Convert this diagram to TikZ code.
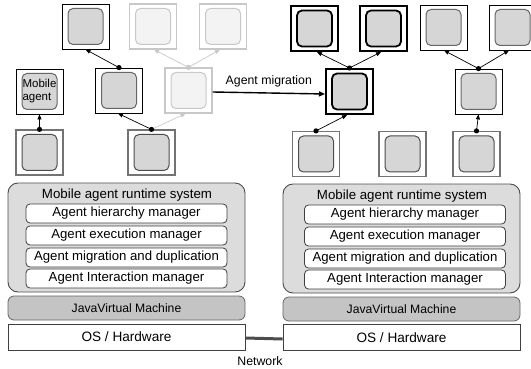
\documentclass[tikz,border=0pt]{standalone}
\usepackage{fontspec}
\setmainfont{Liberation Sans}
\usetikzlibrary{arrows.meta}
\definecolor{coregray}{HTML}{D6D6D6}
\definecolor{runtimegray}{HTML}{DCDCDC}
\definecolor{jvmgray}{HTML}{C4C4C4}
\definecolor{fadeline}{HTML}{C8C8C8}
\definecolor{fadefill}{HTML}{F3F3F3}
\tikzset{
  host/.style={draw=black, line width=0.8pt, fill=white, minimum width=47pt, minimum height=45pt, inner sep=0pt},
  core/.style={draw=black!60, line width=1pt, fill=coregray, rounded corners=5pt, minimum width=35pt, minimum height=36pt, inner sep=0pt},
  basehost/.style={host, draw=black!55, line width=1.2pt},
  basecore/.style={core, draw=black!70},
  boldhost/.style={host, line width=2pt},
  boldcore/.style={core, draw=black, line width=1.8pt},
  fadehost/.style={host, draw=fadeline, line width=1.2pt},
  fadecore/.style={core, draw=fadeline, fill=fadefill},
  link/.style={line width=0.7pt, -{Triangle[length=5pt,width=4pt]}},
  fadelink/.style={link, draw=fadeline},
  dot/.style={fill=black},
  layer/.style={draw=black!70, line width=0.9pt, rounded corners=10pt, fill=runtimegray, minimum width=237pt, minimum height=109pt, inner sep=0pt},
  module/.style={draw=black!75, line width=0.8pt, rounded corners=4pt, fill=white, minimum width=201pt, minimum height=19pt, inner sep=0pt, font=\fontsize{13.2}{15}\selectfont},
  jvm/.style={draw=black!60, line width=0.8pt, rounded corners=6pt, fill=jvmgray, minimum width=237pt, minimum height=24pt, inner sep=0pt, font=\fontsize{12.2}{14}\selectfont},
  os/.style={draw=black!75, line width=0.8pt, fill=white, minimum width=237pt, minimum height=26pt, inner sep=0pt, font=\fontsize{13.6}{15}\selectfont},
  label/.style={font=\fontsize{12.3}{14}\selectfont, inner sep=0pt},
}
% an agent place: outer frame plus rounded agent body
\newcommand\agentbox[4][]{%
  \node[#2host] (#3) at (#4) {};
  \node[#2core, align=left, font=\fontsize{11.5}{13}\selectfont] (#3c) at (#3) {#1};
}
\begin{document}
\begin{tikzpicture}[x=1pt, y=-1pt]
\useasboundingbox (0,0) rectangle (531,369);
\clip (0,0) rectangle (531,369);

% ---- left host: agent hierarchy ----
\agentbox{}{A}{85.5,26.5}
\agentbox{fade}{B}{153,26.5}
\agentbox{fade}{C}{223,26.5}
\agentbox[Mobile\\agent]{}{MA}{39.5,91.5}
\agentbox{}{D}{119,90.5}
\agentbox{fade}{E}{188.5,90.5}
\agentbox{base}{F}{39.5,152.5}
\agentbox{base}{G}{151.5,152.5}

\draw[fadelink] (G.north) -- ([xshift=-3pt]E.south);
\draw[fadelink] (E.north) -- ([xshift=1pt]B.south);
\draw[fadelink] (E.north) -- ([xshift=-3pt]C.south);
\fill[fadeline] (E.north) circle (2.6pt);
\draw[link] (G.north) -- ([xshift=-1pt]D.south);
\draw[link] (D.north) -- (A.south);
\draw[link] (F.north) -- (MA.south);
\fill[dot] (G.north) circle (2.6pt);
\fill[dot] (D.north) circle (2.6pt);
\fill[dot] (F.north) circle (2.6pt);

% ---- right host ----
\agentbox{bold}{H1}{314.5,28.5}
\agentbox{bold}{H2}{383.5,28.5}
\agentbox{}{H3}{443.5,27.5}
\agentbox{}{H4}{512.5,27.5}
\agentbox{bold}{M}{349.5,91.5}
\agentbox{}{N}{478.5,91.5}
\agentbox{base}{R1}{316,154}
\agentbox{base}{R2}{402.5,154}
\agentbox{base}{R3}{476.5,154}

\draw[link] (M.north) -- ([xshift=2.5pt]H1.south);
\draw[link] (M.north) -- ([xshift=-2.5pt]H2.south);
\draw[link] (R1.north) -- ([xshift=-2.5pt]M.south);
\draw[link] (N.north) -- ([xshift=0.5pt]H3.south);
\draw[link] (N.north) -- ([xshift=-3.5pt]H4.south);
\draw[link] (R3.north) -- (N.south);
\fill[dot] (M.north) circle (2.6pt);
\fill[dot] (R1.north) circle (2.6pt);
\fill[dot] (N.north) circle (2.6pt);
\fill[dot] (R3.north) circle (2.6pt);

% migration of the agent between hosts
\draw[line width=1.4pt, -{Triangle[length=6pt,width=5pt]}] ([yshift=-1.5pt]E.east) -- ([yshift=-2.5pt]M.west)
  node[label, midway, above=5pt] {Agent migration};

% ---- platform stacks ----
\node[layer] (rtL) at (126.5,237.5) {};
\node[label, font=\fontsize{13.3}{15}\selectfont] (rtLt) at (127,195) {Mobile agent runtime system};
\node[module] (hmL) at (126.5,213.5) {Agent hierarchy manager};
\node[module] (emL) at (126.5,235.5) {Agent execution manager};
\node[module] (mdL) at (126.5,257.5) {Agent migration and duplication};
\node[module] (imL) at (126.5,278.5) {Agent Interaction manager};
\node[jvm] (jvmL) at (126.5,308) {JavaVirtual Machine};
\node[os] (osL) at (126.5,337) {OS / Hardware};

\node[layer] (rtR) at (401.5,238.5) {};
\node[label, font=\fontsize{13.3}{15}\selectfont] (rtRt) at (402,196) {Mobile agent runtime system};
\node[module] (hmR) at (405,214.5) {Agent hierarchy manager};
\node[module] (emR) at (405,236.5) {Agent execution manager};
\node[module] (mdR) at (405,258.5) {Agent migration and duplication};
\node[module] (imR) at (405,279.5) {Agent Interaction manager};
\node[jvm] (jvmR) at (401.5,309) {JavaVirtual Machine};
\node[os] (osR) at (401.5,337.5) {OS / Hardware};

% network link
\draw[line width=3pt, draw=black!70] ([yshift=-1pt]osL.east) -- ([yshift=-1.5pt]osR.west);
\node[label] (net) at (260,361) {Network};
\end{tikzpicture}
\end{document}
